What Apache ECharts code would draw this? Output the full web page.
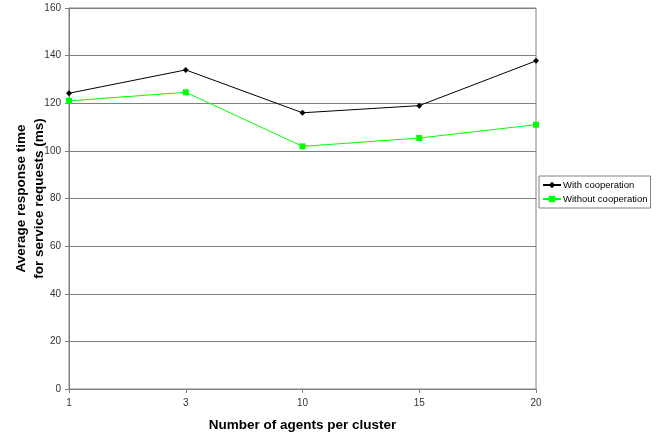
<!DOCTYPE html>
<html>
<head>
<meta charset="utf-8">
<script src="https://cdn.jsdelivr.net/npm/echarts@6/dist/echarts.min.js"></script>
<style>
  html, body { margin: 0; padding: 0; background: #fff; }
  #chart { width: 660px; height: 434px; }
</style>
</head>
<body>
<div id="chart"></div>
<script>
// agents per cluster
var categories = ['1', '3', '10', '15', '20']
var withCooperation = [124.2, 134.0, 116.0, 119.0, 137.8]
var withoutCooperation = [121.0, 124.6, 101.9, 105.4, 111.0]

var chart = echarts.init(document.getElementById('chart'))
var font = 'Liberation Sans, Arial, sans-serif'

chart.setOption({
  animation: false,
  textStyle: { fontFamily: font },
  grid: {
    left: 69,
    right: 124,
    top: 8,
    bottom: 45,
    containLabel: false,
    outerBoundsMode: 'none',
    show: true,
    borderColor: '#808080',
    borderWidth: 1
  },
  legend: {
    orient: 'vertical',
    left: 539,
    top: 176,
    padding: [4, 3, 4, 3],
    itemGap: 4,
    itemWidth: 18,
    itemHeight: 8,
    backgroundColor: '#fff',
    borderColor: '#808080',
    borderWidth: 1,
    borderRadius: 0,
    textStyle: { fontFamily: font, fontSize: 9.5, color: '#000', padding: [0, 0, 0, -3] },
    data: ['With cooperation', 'Without cooperation']
  },
  xAxis: {
    type: 'category',
    data: categories,
    boundaryGap: false,
    name: 'Number of agents per cluster',
    nameLocation: 'middle',
    nameGap: 29,
    nameMoveOverlap: false,
    nameTextStyle: { fontFamily: font, fontSize: 13.5, fontWeight: 'bold', color: '#000' },
    axisLine: { lineStyle: { color: '#808080' } },
    axisTick: { show: true, length: 4, lineStyle: { color: '#808080' } },
    axisLabel: { fontSize: 10, color: '#333', margin: 9 },
    splitLine: { show: false }
  },
  yAxis: {
    type: 'value',
    min: 0,
    max: 160,
    interval: 20,
    name: 'Average response time\nfor service requests (ms)',
    nameLocation: 'middle',
    nameGap: 21,
    nameMoveOverlap: false,
    nameTextStyle: { fontFamily: font, fontSize: 13.5, fontWeight: 'bold', color: '#000', lineHeight: 18 },
    axisLine: { show: true, lineStyle: { color: '#808080' } },
    axisTick: { show: true, length: 4, lineStyle: { color: '#808080' } },
    axisLabel: { fontSize: 10, color: '#333', margin: 8 },
    splitLine: { show: true, lineStyle: { color: '#808080', width: 1 } }
  },
  series: [
    {
      name: 'With cooperation',
      type: 'line',
      data: withCooperation,
      symbol: 'diamond',
      symbolSize: 6,
      itemStyle: { color: '#000' },
      lineStyle: { color: '#000', width: 1 }
    },
    {
      name: 'Without cooperation',
      type: 'line',
      data: withoutCooperation,
      symbol: 'rect',
      symbolSize: 6,
      itemStyle: { color: '#00ff00' },
      lineStyle: { color: '#00ff00', width: 1 }
    }
  ]
})
</script>
</body>
</html>
